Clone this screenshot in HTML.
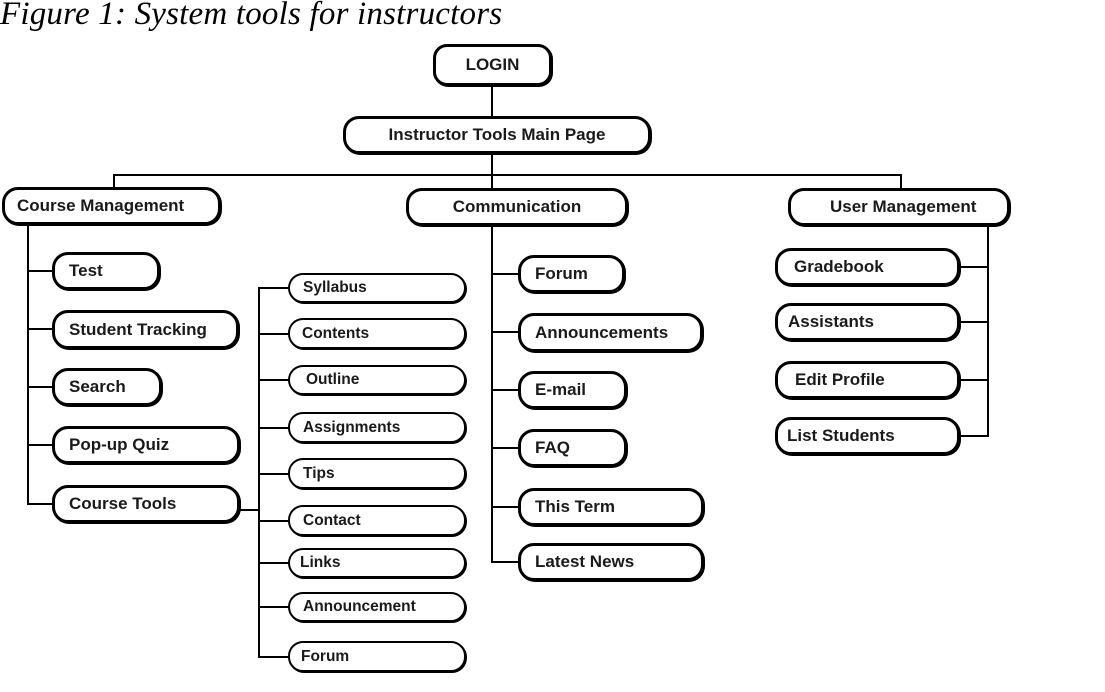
<!DOCTYPE html>
<html><head><meta charset="utf-8"><style>
body{margin:0;width:1105px;height:692px;background:#fff;position:relative;overflow:hidden;font-family:"Liberation Sans","DejaVu Sans",sans-serif}
.t{position:absolute;left:0;top:-4px;font-family:"Liberation Serif",serif;font-style:italic;font-size:33px;letter-spacing:0.2px;color:#000}
.b{position:absolute;box-sizing:border-box;border:3px solid #000;border-radius:16px;background:#fff;font-size:17px;font-weight:bold;color:#1a1a1a;display:flex;align-items:center;white-space:nowrap;box-shadow:1px 1px 0 #000}
.s{border-width:2px;border-radius:15px;font-size:15.5px}
.h{position:absolute;background:#000;height:2px}
.v{position:absolute;background:#000;width:2px}
</style></head><body>
<div class="t">Figure 1: System tools for instructors</div>

<div class="v" style="left:491px;top:86px;height:30px"></div>
<div class="v" style="left:491px;top:154px;height:22px"></div>
<div class="h" style="left:113px;top:174px;width:789px"></div>
<div class="v" style="left:113px;top:174px;height:14px"></div>
<div class="v" style="left:491px;top:174px;height:14px"></div>
<div class="v" style="left:900px;top:174px;height:14px"></div>

<div class="v" style="left:27px;top:225px;height:280px"></div>
<div class="h" style="left:27px;top:270px;width:26px"></div>
<div class="h" style="left:27px;top:328px;width:26px"></div>
<div class="h" style="left:27px;top:386px;width:26px"></div>
<div class="h" style="left:27px;top:444px;width:26px"></div>
<div class="h" style="left:27px;top:503px;width:26px"></div>

<div class="h" style="left:238px;top:509px;width:21px"></div>
<div class="v" style="left:258px;top:287px;height:371px"></div>
<div class="h" style="left:258px;top:287px;width:31px"></div>
<div class="h" style="left:258px;top:333px;width:31px"></div>
<div class="h" style="left:258px;top:379px;width:31px"></div>
<div class="h" style="left:258px;top:427px;width:31px"></div>
<div class="h" style="left:258px;top:473px;width:31px"></div>
<div class="h" style="left:258px;top:520px;width:31px"></div>
<div class="h" style="left:258px;top:562px;width:31px"></div>
<div class="h" style="left:258px;top:606px;width:31px"></div>
<div class="h" style="left:258px;top:656px;width:31px"></div>

<div class="v" style="left:491px;top:226px;height:336px"></div>
<div class="h" style="left:491px;top:273px;width:28px"></div>
<div class="h" style="left:491px;top:331px;width:28px"></div>
<div class="h" style="left:491px;top:389px;width:28px"></div>
<div class="h" style="left:491px;top:447px;width:28px"></div>
<div class="h" style="left:491px;top:506px;width:28px"></div>
<div class="h" style="left:491px;top:561px;width:28px"></div>

<div class="v" style="left:987px;top:226px;height:211px"></div>
<div class="h" style="left:958px;top:266px;width:30px"></div>
<div class="h" style="left:958px;top:321px;width:30px"></div>
<div class="h" style="left:958px;top:379px;width:30px"></div>
<div class="h" style="left:958px;top:435px;width:30px"></div>

<div class="b" style="left:433px;top:44px;width:119px;height:42px;justify-content:center;border-radius:14px">LOGIN</div>
<div class="b" style="left:343px;top:116px;width:308px;height:38px;justify-content:center">Instructor Tools Main Page</div>
<div class="b" style="left:2px;top:187px;width:219px;height:38px;padding-left:12px">Course Management</div>
<div class="b" style="left:406px;top:188px;width:222px;height:38px;justify-content:center">Communication</div>
<div class="b" style="left:788px;top:188px;width:222px;height:38px;padding-left:39px">User Management</div>

<div class="b" style="left:52px;top:252px;width:108px;height:38px;padding-left:14px">Test</div>
<div class="b" style="left:52px;top:310px;width:187px;height:39px;padding-left:14px">Student Tracking</div>
<div class="b" style="left:52px;top:368px;width:110px;height:38px;padding-left:14px">Search</div>
<div class="b" style="left:52px;top:426px;width:188px;height:38px;padding-left:14px">Pop-up Quiz</div>
<div class="b" style="left:52px;top:485px;width:188px;height:38px;padding-left:14px">Course Tools</div>

<div class="b s" style="left:288px;top:273px;width:178px;height:30px;padding-left:13px">Syllabus</div>
<div class="b s" style="left:288px;top:318px;width:178px;height:31px;padding-left:12px">Contents</div>
<div class="b s" style="left:288px;top:365px;width:178px;height:30px;padding-left:16px">Outline</div>
<div class="b s" style="left:288px;top:412px;width:178px;height:31px;padding-left:13px">Assignments</div>
<div class="b s" style="left:288px;top:458px;width:178px;height:31px;padding-left:13px">Tips</div>
<div class="b s" style="left:288px;top:505px;width:178px;height:31px;padding-left:13px">Contact</div>
<div class="b s" style="left:288px;top:548px;width:178px;height:30px;padding-left:10px">Links</div>
<div class="b s" style="left:288px;top:592px;width:178px;height:30px;padding-left:13px">Announcement</div>
<div class="b s" style="left:288px;top:641px;width:178px;height:31px;padding-left:11px">Forum</div>

<div class="b" style="left:518px;top:255px;width:107px;height:38px;padding-left:14px">Forum</div>
<div class="b" style="left:518px;top:313px;width:185px;height:39px;padding-left:14px">Announcements</div>
<div class="b" style="left:518px;top:371px;width:109px;height:38px;padding-left:14px">E-mail</div>
<div class="b" style="left:518px;top:429px;width:109px;height:38px;padding-left:14px">FAQ</div>
<div class="b" style="left:518px;top:488px;width:186px;height:38px;padding-left:14px">This Term</div>
<div class="b" style="left:518px;top:543px;width:186px;height:38px;padding-left:14px">Latest News</div>

<div class="b" style="left:775px;top:248px;width:185px;height:38px;padding-left:16px">Gradebook</div>
<div class="b" style="left:775px;top:303px;width:185px;height:38px;padding-left:10px">Assistants</div>
<div class="b" style="left:775px;top:361px;width:185px;height:38px;padding-left:17px">Edit Profile</div>
<div class="b" style="left:775px;top:417px;width:185px;height:38px;padding-left:9px">List Students</div>
</body></html>
